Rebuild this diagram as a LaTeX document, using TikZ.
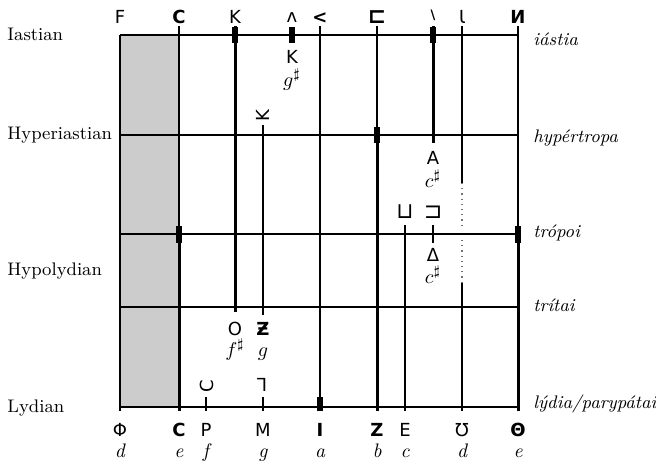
\documentclass[tikz,border=0pt]{standalone}
\usepackage{fontspec}
\newfontfamily\grkfont{DejaVu Sans}
\tikzset{
  thn/.style={line width=0.6pt},
  thk/.style={line width=1.5pt},
  xthk/.style={line width=2.6pt},
  dots/.style={line width=0.6pt,dotted,black!55},
  sym/.style={font=\grkfont\fontsize{9}{10}\selectfont,inner sep=0pt},
  symb/.style={font=\grkfont\bfseries\fontsize{9}{10}\selectfont,inner sep=0pt},
  sqsym/.style={font=\grkfont\fontsize{11}{12}\selectfont,inner sep=0pt},
  pitch/.style={font=\fontsize{9.8}{11}\selectfont\itshape,inner sep=0pt,anchor=base},
  mode/.style={font=\fontsize{9.1}{11}\selectfont,inner sep=0pt,anchor=base west},
  tonos/.style={font=\fontsize{9.1}{11}\selectfont\itshape,inner sep=0pt,anchor=base west}
}

\begin{document}
\begin{tikzpicture}[x=0.5pt,y=-0.5pt]
  \useasboundingbox (0,0) rectangle (656,467);
  % ---- shaded column ----
  \fill[black!20] (120,35) rectangle (179,407);
  % ---- horizontal rows ----
  \draw[thn] (120,35) -- (518,35);
  \draw[thn] (120,135) -- (518,135);
  \draw[thn] (120,234) -- (518,234);
  \draw[thn] (120,307) -- (518,307);
  \draw[thn] (120,407) -- (518,407);
  % ---- vertical strings ----
  \draw[thn] (120,35) -- (120,411);
  \draw[thn] (179,26) -- (179,226);
  \draw[thk] (179,226) -- (179,411);
  \draw[xthk] (179,226) -- (179,243);
  \draw[thk] (235,26) -- (235,312);
  \draw[xthk] (235,27) -- (235,43);
  \draw[thn] (263,125) -- (263,315);
  \draw[thn] (263,397) -- (263,411);
  \draw[xthk] (292,27) -- (292,43);
  \draw[thn] (206,397) -- (206,411);
  \draw[thn] (320,26) -- (320,411);
  \draw[xthk] (320,397) -- (320,411);
  \draw[thn] (377,26) -- (377,127);
  \draw[thk] (377,127) -- (377,411);
  \draw[xthk] (377,127) -- (377,143);
  \draw[thn] (405,225) -- (405,411);
  \draw[thk] (433,26) -- (433,143);
  \draw[xthk] (433,27) -- (433,43);
  \draw[thn] (433,225) -- (433,243);
  \draw[thn] (462,26) -- (462,183);
  \draw[dots] (462,183) -- (462,226);
  \draw[dots] (462,240) -- (462,283);
  \draw[thn] (462,283) -- (462,411);
  \draw[thn] (518,26) -- (518,226);
  \draw[thk] (518,226) -- (518,411);
  \draw[xthk] (518,226) -- (518,243);
  % ---- top signs ----
  \node[sym,anchor=base] (tF) at (120,23) {F};
  \node[symb,anchor=base] (tC) at (179,23) {C};
  \node[sym,anchor=base] (tK) at (235,23) {K};
  \node[sym,anchor=base] (tLam) at (292,22) {ʌ};
  \node[symb,anchor=base] (tLt) at (320,23) {<};
  \node[sqsym,font=\grkfont\bfseries\fontsize{11}{12}\selectfont] (tSq) at (377,17) {⊏};
  \node[symb,font=\grkfont\bfseries\fontsize{6.5}{8}\selectfont] (tBs) at (433,15) {\textbackslash};
  \node[sym,anchor=base] (tIo) at (462,23) {Ɩ};
  \node[symb,anchor=base] (tDg) at (518,23) {Ͷ};
  % ---- signs between the rows ----
  \node[sym] (mK) at (292,57) {K};
  \node[pitch] (mKg) at (292,86) {$g^\sharp$};
  \node[sym,rotate=90] (mKr) at (263,116) {K};
  \node[sym] (mA) at (433,158) {A};
  \node[pitch] (mAc) at (433,187) {$c^\sharp$};
  \node[sqsym] (mSqU) at (405,212) {⊔};
  \node[sqsym] (mSqR) at (433,212) {⊐};
  \node[sym] (mDe) at (433,255) {Δ};
  \node[pitch] (mDec) at (433,283) {$c^\sharp$};
  \node[sym] (mO) at (235,329) {O};
  \node[pitch] (mOf) at (235,356) {$f^\sharp$};
  \node[symb] (mZh) at (263,329) {Ƶ};
  \node[pitch] (mZg) at (263,356) {$g$};
  \node[sym,rotate=90] (mCr) at (207,386) {C};
  \node[sym,xscale=-1] (mGm) at (262,385) {Γ};
  % ---- bottom signs and pitches ----
  \node[sym,anchor=base] (bPhi) at (120,436) {Φ};
  \node[symb,anchor=base] (bC) at (179,436) {C};
  \node[sym,anchor=base] (bP) at (206,436) {P};
  \node[sym,anchor=base] (bM) at (263,436) {M};
  \node[symb,anchor=base] (bI) at (320,436) {I};
  \node[symb,anchor=base] (bZ) at (377,436) {Z};
  \node[sym,anchor=base] (bE) at (405,436) {E};
  \node[sym,anchor=base] (bU) at (462,436) {Ʊ};
  \node[symb,anchor=base] (bTh) at (518,436) {Θ};
  \node[pitch] (pd) at (120,457) {d};
  \node[pitch] (pe) at (179,457) {e};
  \node[pitch] (pf) at (206,457) {f};
  \node[pitch] (pg) at (263,457) {g};
  \node[pitch] (pa) at (320,457) {a};
  \node[pitch] (pb) at (377,457) {b};
  \node[pitch] (pc) at (405,457) {c};
  \node[pitch] (pd2) at (462,457) {d};
  \node[pitch] (pe2) at (518,457) {e};
  % ---- tonoi (left) and tunings (right) ----
  \node[mode] (lIas) at (7,40) {Iastian};
  \node[mode] (lHyp) at (7,139) {Hyperiastian};
  \node[mode] (lHyl) at (7,275) {Hypolydian};
  \node[mode] (lLyd) at (7,412) {Lydian};
  \node[tonos] (rIas) at (533,45) {iástia};
  \node[tonos] (rHyp) at (533,142) {hypértropa};
  \node[tonos] (rTro) at (533,237) {trópoi};
  \node[tonos] (rTri) at (533,311) {trítai};
  \node[tonos] (rLyd) at (533,408) {lýdia/parypátai};
\end{tikzpicture}
\end{document}
